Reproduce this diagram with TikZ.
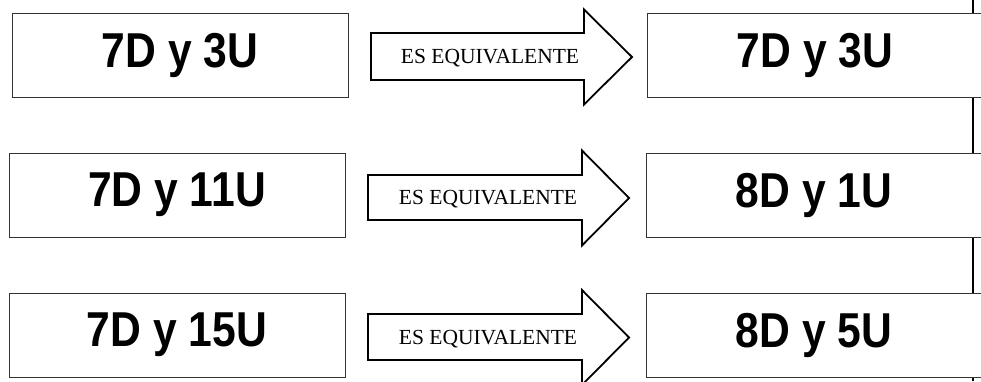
\documentclass[tikz,border=0pt]{standalone}
\usepackage{fontspec}
\newfontfamily\cajafont[FakeStretch=0.87]{Liberation Sans}
\newfontfamily\flechafont{Liberation Serif}

\tikzset{
	caja/.style={draw=black!80, line width=1pt, fill=white, minimum width=336pt, minimum height=84pt, inner sep=0pt, font=\cajafont\bfseries\fontsize{49}{49}\selectfont},
	flecha/.style={draw, line width=1.8pt, fill=white, line join=miter},
	leyenda/.style={inner sep=0pt, font=\flechafont\fontsize{21.5}{21.5}\selectfont}
}

\begin{document}
\begin{tikzpicture}[x=1pt, y=-1pt]
	\useasboundingbox (0, 0) rectangle (981, 381);
	\clip (0, 0) rectangle (981, 381);

	\draw[line width=1.5pt](973, 0) to (973, 381);

	\node[caja] (izq1) at(180, 55){7D y 3U};
	\node[caja] (izq2) at(177, 195){7D y 11U};
	\node[caja] (izq3) at(177, 335){7D y 15U};

	\node[caja] (der1) at(815, 55){7D y 3U};
	\node[caja] (der2) at(814, 195){8D y 1U};
	\node[caja] (der3) at(814, 335){8D y 5U};

	\draw[flecha](371, 33) -- (584, 33) -- (584, 9.5) -- (632, 57) -- (584, 104.5) -- (584, 80) -- (371, 80) -- cycle;
	\draw[flecha](368, 175) -- (582, 175) -- (582, 150.5) -- (629, 198) -- (582, 245.5) -- (582, 220) -- (368, 220) -- cycle;
	\draw[flecha](368, 314) -- (582, 314) -- (582, 290) -- (629, 337.5) -- (582, 385) -- (582, 360) -- (368, 360) -- cycle;

	\node[leyenda] (eq1) at(490, 58){ES EQUIVALENTE};
	\node[leyenda] (eq2) at(488, 199){ES EQUIVALENTE};
	\node[leyenda] (eq3) at(488, 339){ES EQUIVALENTE};
\end{tikzpicture}
\end{document}
